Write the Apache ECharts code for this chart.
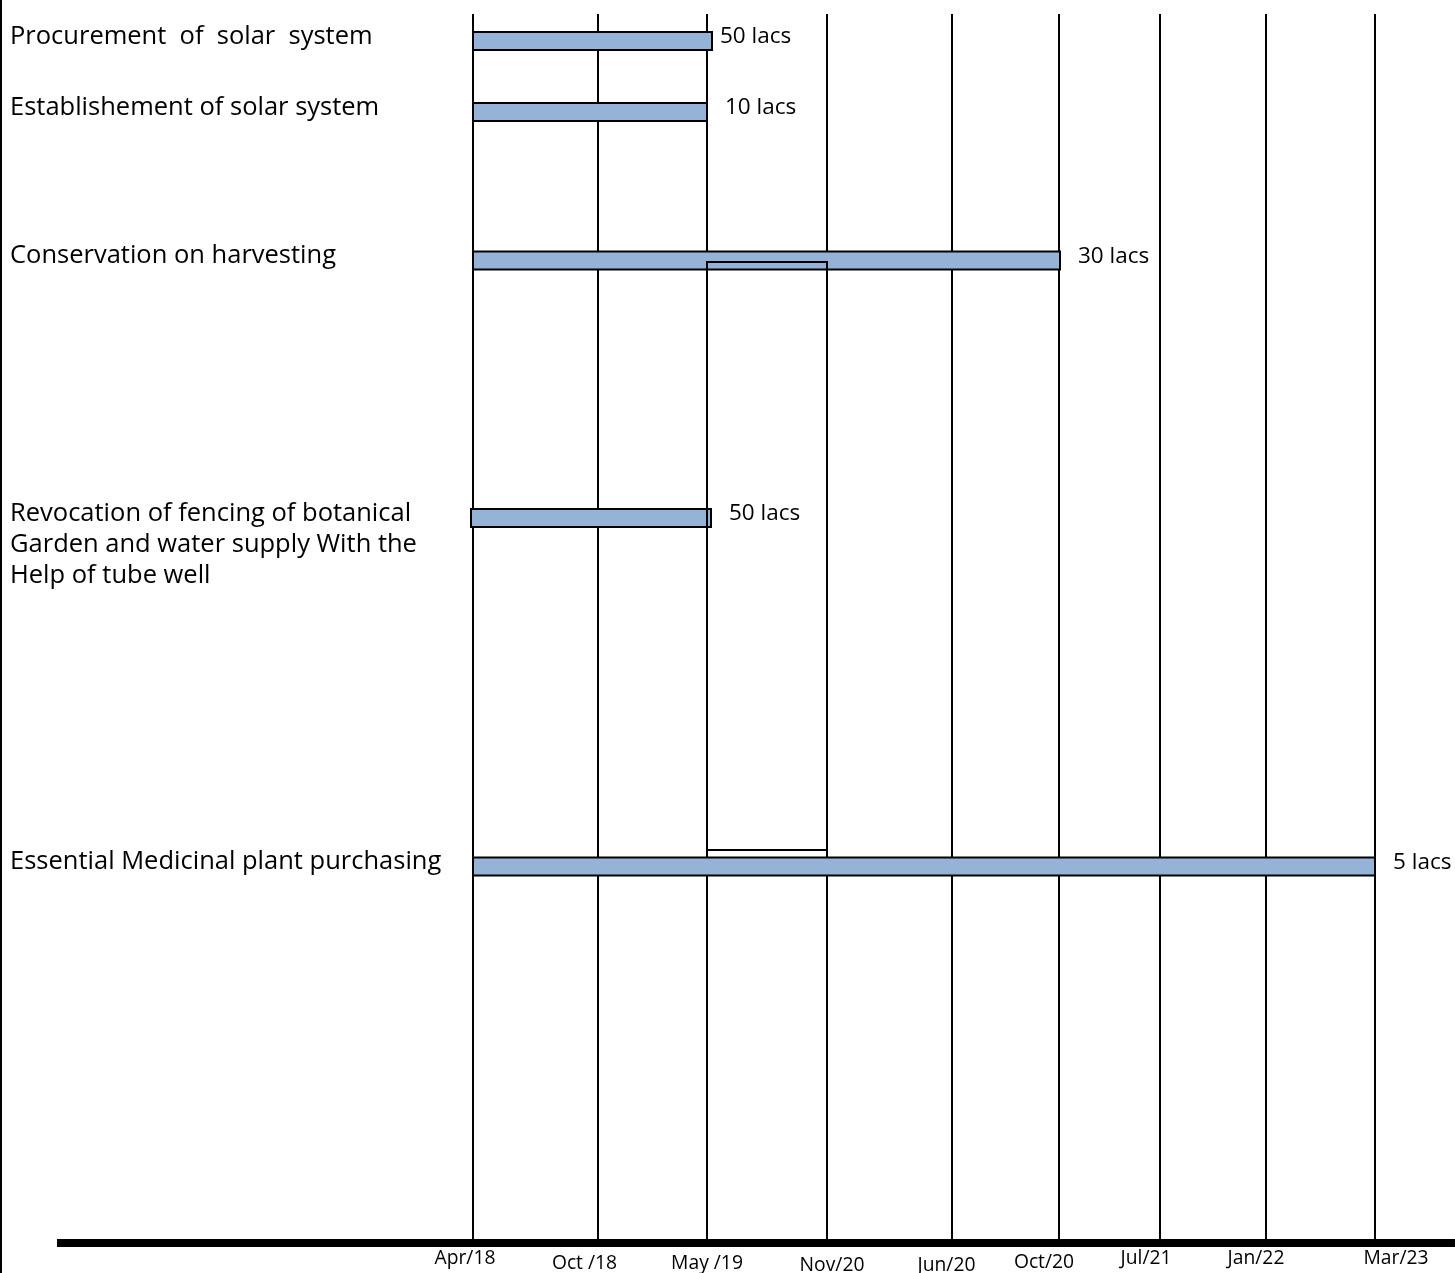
<!DOCTYPE html>
<html>
<head>
<meta charset="utf-8">
<script src="https://cdn.jsdelivr.net/npm/echarts@6/dist/echarts.min.js"></script>
<style>
html,body{margin:0;padding:0;background:#fff;}
#chart{width:1455px;height:1273px;position:relative;}
#edge{position:absolute;left:0;top:0;width:2px;height:1273px;background:#000;}
</style>
</head>
<body>
<div id="chart"></div>
<div id="edge"></div>
<script>
// ---- data ----
const tickLabels = ['Apr/18', 'Oct /18', 'May /19', 'Nov/20', 'Jun/20', 'Oct/20', 'Jul/21', 'Jan/22', 'Mar/23'];
const tickValues = [0, 12.5, 23.4, 35.4, 47.9, 58.6, 68.7, 79.3, 90.2];
const taskNames = [
  'Procurement  of  solar  system',
  'Establishement of solar system',
  'Conservation on harvesting',
  'Revocation of fencing of botanical\nGarden and water supply With the\nHelp of tube well',
  'Essential Medicinal plant purchasing'
];
const taskStart = [0, 0, 0, -0.2, 0];
const taskEnd = [23.9, 23.4, 58.7, 23.8, 90.2];
const taskRow = [41, 112, 260.5, 518, 866.5];
const taskCost = ['50 lacs', '10 lacs', '30 lacs', '50 lacs', '5 lacs'];
const boxSpanX = [23.4, 35.4];
const boxSpanY = [262, 850];
const lineTop = 14;
const axisBase = 1243;

// ---- layout / style ----
const FONT = '"Open Sans", "Noto Sans", sans-serif';
const labelShift = [[-8, 16], [-13.5, 21], [0, 21], [5, 23], [-5.5, 23], [-15, 20], [-14, 16], [-10, 16], [21, 16]];

const chart = echarts.init(document.getElementById('chart'), null, {renderer: 'canvas'});

const option = {
  animation: false,
  backgroundColor: '#fff',
  grid: {left: 57, right: 0, top: 0, bottom: 30},
  xAxis: {
    type: 'value', min: -41.6, max: 98.2, position: 'bottom',
    axisLine: {show: true, onZero: false, lineStyle: {color: '#000', width: 8, cap: 'butt'}},
    axisTick: {show: false}, axisLabel: {show: false}, splitLine: {show: false}
  },
  yAxis: {
    type: 'value', inverse: true, min: 0, max: axisBase, show: false
  },
  series: [
    {
      type: 'custom', name: 'gridlines', clip: false, z: 1,
      data: tickValues.map((v, i) => [v, i]),
      renderItem: function (params, api) {
        const v = api.value(0);
        const i = api.value(1);
        const p1 = api.coord([v, lineTop]);
        const p2 = api.coord([v, axisBase]);
        const sh = labelShift[i];
        return {
          type: 'group',
          children: [
            {type: 'line', shape: {x1: p1[0], y1: p1[1], x2: p2[0], y2: p2[1]},
              style: {stroke: '#000', lineWidth: 2}},
            {type: 'text', x: p2[0] + sh[0], y: p2[1] + sh[1],
              style: {text: tickLabels[i], fill: '#000', font: '19.3px ' + FONT, align: 'center', verticalAlign: 'middle'}}
          ]
        };
      }
    },
    {
      type: 'custom', name: 'tasks', clip: false, z: 3,
      data: taskStart.map((s, i) => [s, taskEnd[i], taskRow[i], i]),
      renderItem: function (params, api) {
        const s = api.value(0), e = api.value(1), r = api.value(2), i = api.value(3);
        const a = api.coord([s, r]);
        const b = api.coord([e, r]);
        const h = 18;
        const gap = i === 0 ? 8 : 18;
        return {
          type: 'group',
          children: [
            {type: 'rect', shape: {x: a[0], y: a[1] - h / 2, width: b[0] - a[0], height: h},
              style: {fill: '#95B3D7', stroke: '#000', lineWidth: 2}},
            {type: 'text', x: b[0] + gap, y: b[1] - 4,
              style: {text: taskCost[i], fill: '#000', font: '22.5px ' + FONT, align: 'left', verticalAlign: 'middle'}},
            {type: 'text', x: 10, y: a[1] - 4.5 - 15.5,
              style: {text: taskNames[i], fill: '#000', font: '25.5px ' + FONT, align: 'left', verticalAlign: 'top', lineHeight: 31}}
          ]
        };
      }
    },
    {
      type: 'custom', name: 'box', clip: false, z: 4,
      data: [[boxSpanX[0], boxSpanY[0], boxSpanX[1], boxSpanY[1]]],
      renderItem: function (params, api) {
        const p1 = api.coord([api.value(0), api.value(1)]);
        const p2 = api.coord([api.value(2), api.value(3)]);
        return {
          type: 'rect',
          shape: {x: p1[0], y: p1[1], width: p2[0] - p1[0], height: p2[1] - p1[1]},
          style: {fill: 'none', stroke: '#000', lineWidth: 2}
        };
      }
    }
  ]
};
chart.setOption(option);
</script>
</body>
</html>
